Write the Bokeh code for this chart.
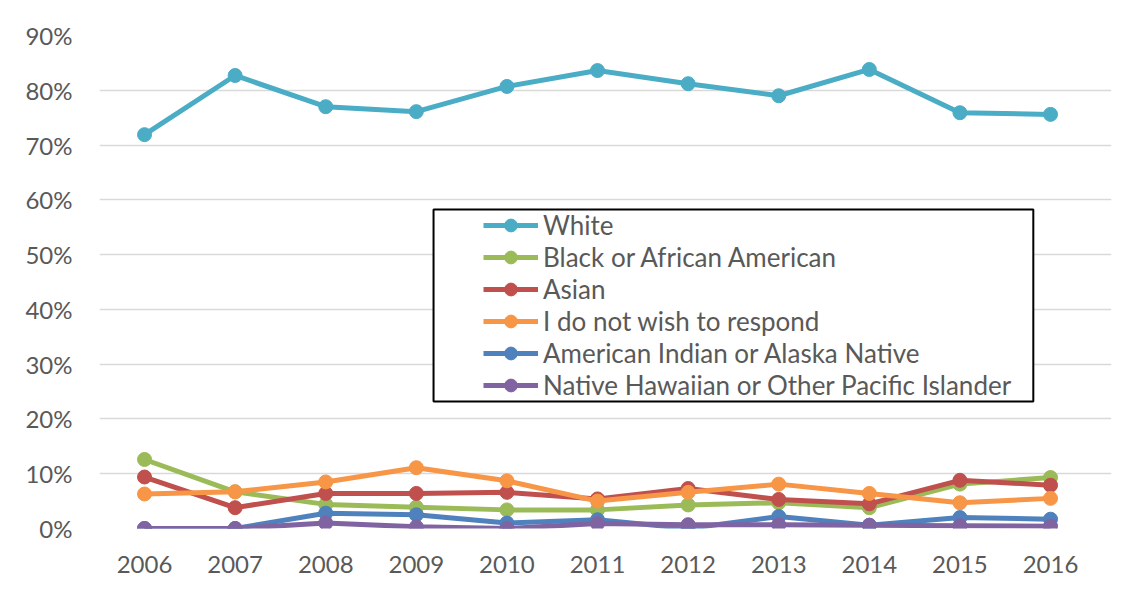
from bokeh.plotting import figure
from bokeh.models import (Range1d, FixedTicker, NumeralTickFormatter, Legend,
                          LegendItem, BoxAnnotation)
from bokeh.embed import file_html
from bokeh.resources import INLINE

years = [2006, 2007, 2008, 2009, 2010, 2011, 2012, 2013, 2014, 2015, 2016]
white = [71.9, 82.7, 77.0, 76.1, 80.7, 83.6, 81.2, 79.0, 83.8, 75.9, 75.6]
black = [12.6, 6.7, 4.4, 3.9, 3.4, 3.4, 4.3, 4.7, 3.8, 8.1, 9.3]
asian = [9.4, 3.8, 6.4, 6.4, 6.6, 5.4, 7.3, 5.3, 4.5, 8.8, 7.9]
no_response = [6.3, 6.7, 8.5, 11.1, 8.7, 5.0, 6.6, 8.1, 6.4, 4.7, 5.5]
am_indian = [0.0, 0.0, 2.8, 2.5, 1.0, 1.6, 0.0, 2.2, 0.6, 2.0, 1.7]
hawaiian = [0.0, 0.0, 1.0, 0.3, 0.0, 0.9, 0.7, 0.7, 0.6, 0.5, 0.4]

series_names = ["White", "Black or African American", "Asian",
                "I do not wish to respond", "American Indian or Alaska Native",
                "Native Hawaiian or Other Pacific Islander"]
series_values = [white, black, asian, no_response, am_indian, hawaiian]
series_colors = ["#4BACC6", "#9BBB59", "#C0504D", "#F79646", "#4F81BD", "#8064A2"]

FONT = "Lato"
TEXT = "#595959"

p = figure(width=1117, height=578, output_backend="svg", toolbar_location=None,
           x_range=Range1d(2005.503, 2016.673), y_range=Range1d(0, 0.9),
           min_border_left=99, min_border_right=6, min_border_top=35,
           min_border_bottom=50)
p.outline_line_color = None
p.background_fill_color = "white"
p.border_fill_color = "white"

p.xaxis.ticker = FixedTicker(ticks=years)
p.yaxis.ticker = FixedTicker(ticks=[i / 10 for i in range(10)])
p.yaxis.formatter = NumeralTickFormatter(format="0%")
for ax in (p.xaxis, p.yaxis):
    ax.axis_line_color = None
    ax.major_tick_line_color = None
    ax.minor_tick_line_color = None
    ax.major_label_text_font = FONT
    ax.major_label_text_font_size = "24px"
    ax.major_label_text_color = TEXT
p.yaxis.major_label_standoff = 21
p.xaxis.major_label_standoff = 21
p.xgrid.grid_line_color = None
p.ygrid.grid_line_color = "#d9d9d9"
p.ygrid.grid_line_width = 1.5

items = []
for name, vals, col in zip(series_names, series_values, series_colors):
    ys = [v / 100 for v in vals]
    r1 = p.line(years, ys, line_color=col, line_width=5)
    r2 = p.scatter(years, ys, marker="circle", size=14, fill_color=col,
                   line_color=col)
    items.append(LegendItem(label=name, renderers=[r1, r2]))

box = BoxAnnotation(left=2009.19, right=2015.81, bottom=0.2318, top=0.5824,
                    fill_color="white", fill_alpha=1.0, line_color="black",
                    line_alpha=1.0, line_width=2, level="annotation")
p.add_layout(box)

legend = Legend(items=items, location=(384, 127), padding=0, spacing=0,
                margin=0, border_line_color=None, background_fill_alpha=0,
                label_text_font=FONT, label_text_font_size="26px",
                label_text_color=TEXT, glyph_width=55, glyph_height=32,
                label_height=32, label_standoff=5)
p.add_layout(legend, "center")

open("out.html", "w").write(file_html(p, INLINE))
